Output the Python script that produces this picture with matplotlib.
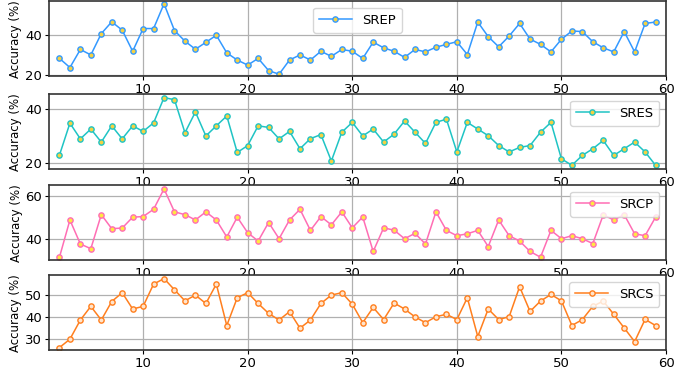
import matplotlib
matplotlib.use("Agg")
import matplotlib.pyplot as plt

x = list(range(2, 60))

srep = [28.3, 23.8, 32.7, 30.0, 40.5, 46.3, 42.2, 31.8, 43.0, 43.0,
        55.2, 42.0, 36.8, 32.8, 36.2, 39.7, 31.0, 27.5, 25.0, 28.3,
        22.3, 20.5, 27.5, 30.0, 27.5, 31.8, 29.3, 32.7, 31.8, 28.3,
        36.3, 33.5, 31.8, 28.8, 32.7, 31.5, 33.8, 35.2, 36.5, 30.2,
        46.2, 39.0, 34.0, 39.3, 45.5, 37.8, 35.2, 31.5, 37.7, 41.8,
        41.5, 36.5, 33.5, 31.5, 41.5, 31.5, 45.5, 46.2]

sres = [22.8, 34.8, 28.9, 32.6, 27.7, 33.8, 28.9, 33.8, 31.7, 34.9,
        44.4, 43.6, 31.2, 39.0, 30.0, 33.8, 37.5, 23.8, 26.4, 33.8,
        33.2, 28.9, 31.7, 25.2, 29.0, 30.5, 20.6, 31.4, 35.1, 30.0,
        32.6, 27.7, 30.7, 35.6, 31.4, 27.2, 35.1, 36.3, 24.0, 35.1,
        32.6, 30.1, 26.4, 24.0, 25.7, 26.4, 31.4, 35.1, 21.4, 19.0,
        22.7, 25.2, 28.3, 22.7, 25.2, 27.7, 24.0, 19.0]

srcp = [31.3, 48.8, 37.5, 35.3, 51.3, 44.7, 45.0, 50.1, 50.4, 53.8,
        63.4, 52.6, 51.3, 48.8, 52.6, 48.8, 40.8, 50.1, 42.8, 38.9,
        47.6, 40.0, 48.8, 53.8, 43.9, 50.4, 46.5, 52.6, 45.1, 50.2,
        34.0, 45.1, 44.0, 40.0, 42.5, 37.5, 52.6, 43.9, 41.4, 42.3,
        43.9, 36.3, 48.8, 41.4, 38.9, 34.0, 31.3, 43.9, 40.0, 41.4,
        40.0, 37.7, 51.2, 48.8, 51.3, 42.3, 41.4, 50.1]

srcs = [26.2, 30.0, 38.7, 44.9, 38.7, 47.1, 51.1, 43.7, 44.9, 55.0,
        57.5, 52.4, 47.4, 50.0, 46.2, 55.0, 36.2, 48.8, 51.1, 46.2,
        41.7, 38.7, 42.5, 35.0, 38.7, 46.2, 50.0, 51.1, 45.9, 37.5,
        44.4, 38.9, 46.4, 43.7, 40.1, 37.5, 40.2, 41.3, 38.9, 48.8,
        31.2, 43.7, 38.9, 40.2, 53.8, 42.6, 47.3, 50.3, 47.4, 36.2,
        38.9, 44.9, 47.3, 41.3, 35.1, 28.9, 39.0, 36.2]

names = ["SREP", "SRES", "SRCP", "SRCS"]
series = [srep, sres, srcp, srcs]
colors = ["#3399ff", "#1fc4c4", "#ff6eb4", "#ff7f1e"]
faces = ["#f5d142", "#f5d142", "#ffe840", "#ffe4cc"]
ylims = [(19.5, 56.5), (17.5, 45.7), (29.8, 65.1), (24.9, 59.0)]
yticks = [[20, 40], [20, 40], [40, 60], [30, 40, 50]]
legend_locs = ["upper center", "upper right", "upper right", "upper right"]
bottoms = [0.795, 0.545, 0.300, 0.058]

fig = plt.figure(figsize=(6.99, 3.72), dpi=100)

for i in range(4):
    ax = fig.add_axes([0.0701, bottoms[i], 0.8827, 0.202])
    ax.plot(x, series[i], color=colors[i], lw=1.1, marker="o", ms=3.8,
            mfc=faces[i], mec=colors[i], mew=1.0, label=names[i])
    ax.set_xlim(1, 60)
    ax.set_ylim(*ylims[i])
    ax.set_xticks([10, 20, 30, 40, 50, 60])
    ax.set_yticks(yticks[i])
    ax.grid(True, color="#b0b0b0", lw=0.9)
    ax.set_axisbelow(True)
    ax.tick_params(labelsize=9.5, length=3, pad=2)
    ax.set_ylabel("Accuracy (%)", fontsize=8.5, labelpad=2)
    for s in ax.spines.values():
        s.set_color("#333333")
        s.set_linewidth(1.2)
    ax.legend(loc=legend_locs[i], fontsize=9.5, framealpha=0.8,
              handlelength=2.5, borderpad=0.45)

fig.savefig("out.png", dpi=100)
